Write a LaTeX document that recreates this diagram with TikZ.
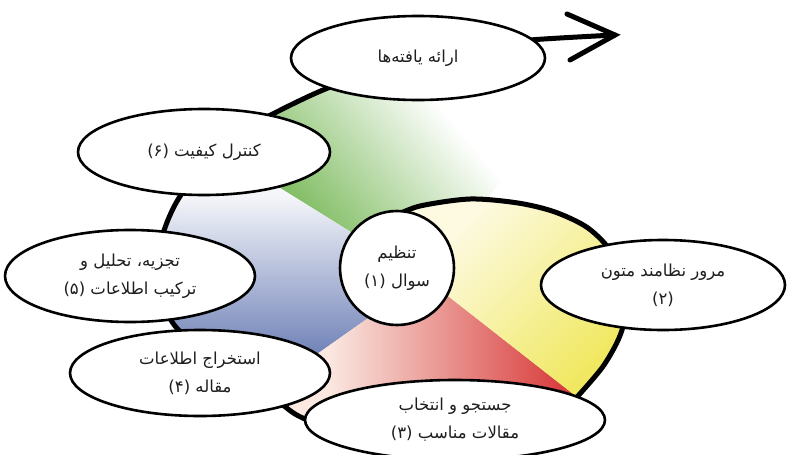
\documentclass[tikz,border=0pt]{standalone}
\usepackage{fontspec}
\usetikzlibrary{shapes.geometric}
\newfontfamily\arabicfont[Script=Arabic]{DejaVu Sans}
\TeXXeTstate=1
\definecolor{gStrong}{RGB}{112,180,78}
\definecolor{yStrong}{RGB}{240,232,96}
\definecolor{yPale}{RGB}{253,250,225}
\definecolor{rStrong}{RGB}{214,52,52}
\definecolor{rPale}{RGB}{250,232,225}
\definecolor{bStrong}{RGB}{95,115,175}
\definecolor{bPale}{RGB}{245,246,250}
\definecolor{txt}{RGB}{30,30,30}
\pgfdeclareverticalshading{greenfade}{100bp}{color(0bp)=(gStrong); color(28bp)=(gStrong); color(58bp)=(white); color(100bp)=(white)}
\pgfdeclareverticalshading{yellowfade}{100bp}{color(0bp)=(yPale); color(30bp)=(yPale); color(75bp)=(yStrong); color(100bp)=(yStrong)}
\pgfdeclareverticalshading{redfade}{100bp}{color(0bp)=(rPale); color(35bp)=(rPale); color(75bp)=(rStrong); color(100bp)=(rStrong)}
\pgfdeclareverticalshading{bluefade}{100bp}{color(0bp)=(bPale); color(35bp)=(bPale); color(72bp)=(bStrong); color(100bp)=(bStrong)}
\begin{document}
\begin{tikzpicture}[x=1pt,y=-1pt,
  ell/.style={ellipse, draw=black, line width=2.6pt, fill=white, inner sep=0pt, align=center,
    font=\arabicfont\fontsize{16.5}{28}\selectfont, text=txt},
  spiral/.style={line width=5pt, line cap=round, line join=round}]
\useasboundingbox[fill=white] (0,0) rectangle (787,455);
\coordinate (C) at (425,278);
% sector fills
\shade[shading=greenfade, shading angle=-50] (C) -- plot[smooth] coordinates {(214,147) (265,118) (323,90) (390,66) (460,48) (530,40) (615,35)} -- cycle;
\shade[shading=bluefade, shading angle=180] (C) -- plot[smooth] coordinates {(266,390) (205,350) (175,326) (158,290) (160,245) (176,203) (214,147)} -- cycle;
\shade[shading=redfade, shading angle=-90] (C) -- plot[smooth] coordinates {(577,397) (545,420) (500,438) (445,446) (385,441) (330,428) (295,414) (266,390)} -- cycle;
\shade[shading=yellowfade, shading angle=-135] (C) -- plot[smooth] coordinates {(395,216) (420,206) (470,199) (518,203) (555,212) (588,228) (612,253) (626,290) (622,330) (604,365) (577,397)} -- cycle;
% spiral outline
\draw[spiral] plot[smooth] coordinates {(395,216) (420,206) (470,199) (518,203) (555,212) (588,228) (612,253) (626,290) (622,330) (604,365) (577,397)};
\draw[spiral] plot[smooth] coordinates {(577,397) (545,420) (500,438) (445,446) (385,441) (330,428) (295,414) (266,390)};
\draw[spiral] plot[smooth] coordinates {(266,390) (205,350) (175,326) (158,290) (160,245) (176,203) (214,147)};
\draw[spiral] plot[smooth] coordinates {(214,147) (265,118) (323,90) (390,66) (460,48) (530,40) (615,35)};
\coordinate (tip) at (615,35);
\coordinate (armA) at (567,14);
\coordinate (armB) at (570,60);
\draw[line width=5pt, line cap=round, line join=miter] (armA) -- (tip) -- (armB);
% nodes
\node[ell, minimum width=254pt, minimum height=84pt] (n7) at (418,58) {\beginR ارائه یافته‌ها\endR};
\node[ell, minimum width=252pt, minimum height=86pt] (n6) at (204,152) {\beginR کنترل کیفیت (۶)\endR};
\node[ell, minimum width=250pt, minimum height=92pt] (n5) at (130,276) {\beginR تجزیه، تحلیل و\endR\\\beginR ترکیب اطلاعات (۵)\endR};
\node[ell, minimum width=260pt, minimum height=86pt] (n4) at (200,373) {\beginR استخراج اطلاعات\endR\\\beginR مقاله (۴)\endR};
\node[ell, minimum width=300pt, minimum height=80pt] (n3) at (455,420) {\beginR جستجو و انتخاب\endR\\\beginR مقالات مناسب (۳)\endR};
\node[ell, minimum width=244pt, minimum height=90pt] (n2) at (663,285) {\beginR مرور نظامند متون\endR\\\beginR (۲)\endR};
\node[ell, circle, minimum size=114pt] (n1) at (397,268) {\beginR تنظیم\endR\\\beginR سوال (۱)\endR};
\end{tikzpicture}
\end{document}
